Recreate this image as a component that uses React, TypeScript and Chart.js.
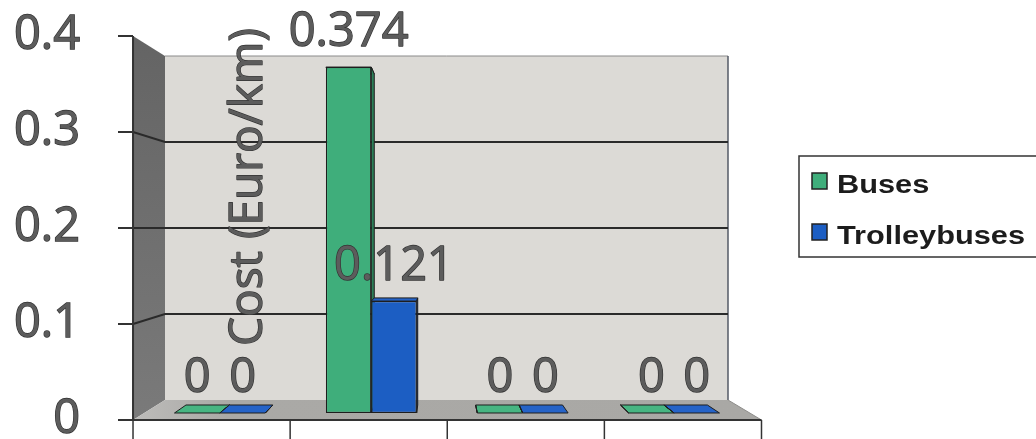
import React, { useEffect, useRef } from "react";
import { Chart, registerables } from "chart.js";

Chart.register(...registerables);

// ---------- data ----------
const categories = ["", "", "", ""];
const busValues = [0, 0.374, 0, 0];
const trolleybusValues = [0, 0.121, 0, 0];
const seriesLabels = ["Buses", "Trolleybuses"];
const yMin = 0;
const yMax = 0.4;
const yStep = 0.1;
const yAxisTitle = "Cost (Euro/km)";

// ---------- style ----------
const WIDTH = 1036;
const HEIGHT = 439;
const COLORS = ["#3fae7b", "#1c5ec3"];
const TOP_COLORS = ["#47b582", "#2563c8"];
const SIDE_COLORS = ["#2b7f58", "#14449a"];
const EDGE = "#1e1e1e";
const TEXT = "#5c5c5c";
const TEXT_EDGE = "#333333";
const FONT = "'Open Sans', 'DejaVu Sans', sans-serif";
const LEGEND_FONT = "bold 25px 'Liberation Sans', Arial, sans-serif";

// 3D view: vanishing point and depth scales (back wall = 1)
const VP = { x: 440, y: 228 };
const S_BACK = 1;
const S_BAR_BACK = 1.029;
const S_BAR = 1.0756;
const S_FRONT = 1.1163;
const PLOT_TOP = 36;
const PLOT_BOTTOM = 420;
const BACK_LEFT = 165;
const BACK_RIGHT = 728;
const AREA_LEFT = VP.x + (BACK_LEFT - VP.x) * S_BAR;
const AREA_RIGHT = VP.x + (BACK_RIGHT - VP.x) * S_BAR;
const LABEL_RIGHT = 80;

// hidden bar-plane value axis range (bars sit slightly behind the front axis plane)
const ratio = S_BAR / S_FRONT;
const frontValueAt = (p: number) =>
  yMin + ((PLOT_BOTTOM - p) / (PLOT_BOTTOM - PLOT_TOP)) * (yMax - yMin);
const barValueAt = (p: number) => frontValueAt(VP.y + (p - VP.y) / ratio);
const ybMin = barValueAt(PLOT_BOTTOM);
const ybMax = barValueAt(PLOT_TOP);

function poly(ctx: CanvasRenderingContext2D, pts: number[][], fill: any, stroke?: string, lw = 1) {
  ctx.beginPath();
  pts.forEach(([px, py], i) => (i === 0 ? ctx.moveTo(px, py) : ctx.lineTo(px, py)));
  ctx.closePath();
  ctx.fillStyle = fill;
  ctx.fill();
  if (stroke) {
    ctx.strokeStyle = stroke;
    ctx.lineWidth = lw;
    ctx.stroke();
  }
}

function outlinedText(ctx: CanvasRenderingContext2D, text: string, x: number, y: number) {
  ctx.lineWidth = 1.3;
  ctx.strokeStyle = TEXT_EDGE;
  ctx.lineJoin = "round";
  ctx.strokeText(text, x, y);
  ctx.fillStyle = TEXT;
  ctx.fillText(text, x, y);
}

const threeD = {
  id: "threeD",
  beforeDraw(chart: any) {
    const { ctx, chartArea: a, scales } = chart;
    const y = scales.y;
    const x = scales.x;
    const fx = (px: number) => VP.x + ((px - VP.x) * S_FRONT) / S_BAR;
    const bx = (px: number) => VP.x + ((px - VP.x) * S_BACK) / S_BAR;
    const by = (py: number) => VP.y + ((py - VP.y) * S_BACK) / S_FRONT;
    const fL = fx(a.left);
    const fR = fx(a.right);
    const bL = bx(a.left);
    const bR = bx(a.right);
    const fTop = y.getPixelForValue(yMax);
    const fBot = y.getPixelForValue(yMin);
    const bTop = by(fTop);
    const bBot = by(fBot);
    ctx.save();
    // back wall
    ctx.fillStyle = "#dcdad6";
    ctx.fillRect(bL, bTop, bR - bL, bBot - bTop);
    ctx.strokeStyle = "#8a8a8a";
    ctx.lineWidth = 1;
    ctx.beginPath();
    ctx.moveTo(bL, bTop);
    ctx.lineTo(bR, bTop);
    ctx.stroke();
    ctx.strokeStyle = "#555a66";
    ctx.lineWidth = 1.5;
    ctx.beginPath();
    ctx.moveTo(bR, bTop);
    ctx.lineTo(bR, bBot);
    ctx.stroke();
    // side wall
    const g = ctx.createLinearGradient(0, fTop, 0, fBot);
    g.addColorStop(0, "#646464");
    g.addColorStop(1, "#7a7a7a");
    poly(ctx, [[fL, fTop], [bL, bTop], [bL, bBot], [fL, fBot]], g);
    // floor
    const fg = ctx.createLinearGradient(fL, 0, fR, 0);
    fg.addColorStop(0, "#bdbcba");
    fg.addColorStop(0.15, "#aaa9a6");
    fg.addColorStop(1, "#a9a8a5");
    poly(ctx, [[fL, fBot], [bL, bBot], [bR, bBot], [fR, fBot]], fg);
    ctx.strokeStyle = "#8d8c8a";
    ctx.lineWidth = 1;
    ctx.beginPath();
    ctx.moveTo(bR, bBot);
    ctx.lineTo(fR, fBot);
    ctx.stroke();
    // gridlines (side wall + back wall)
    ctx.strokeStyle = "#2a2a2a";
    ctx.lineWidth = 2;
    y.ticks.forEach((t: any) => {
      if (t.value <= yMin || t.value >= yMax) return;
      const fy = y.getPixelForValue(t.value);
      const gy = by(fy);
      ctx.beginPath();
      ctx.moveTo(fL, fy);
      ctx.lineTo(bL, gy);
      ctx.lineTo(bR, gy);
      ctx.stroke();
    });
    // front value axis line + ticks
    ctx.strokeStyle = "#333";
    ctx.lineWidth = 2;
    ctx.beginPath();
    ctx.moveTo(fL, fTop);
    ctx.lineTo(fL, fBot);
    ctx.stroke();
    y.ticks.forEach((t: any) => {
      const fy = y.getPixelForValue(t.value);
      ctx.beginPath();
      ctx.moveTo(fL - 15, fy);
      ctx.lineTo(fL, fy);
      ctx.stroke();
    });
    // front category axis line + ticks
    ctx.beginPath();
    ctx.moveTo(fL, fBot);
    ctx.lineTo(fR, fBot);
    ctx.stroke();
    ctx.lineWidth = 1.5;
    for (let i = 0; i <= categories.length; i++) {
      const px = fx(x.getPixelForValue(i - 0.5));
      ctx.beginPath();
      ctx.moveTo(px, fBot);
      ctx.lineTo(px, fBot + 19);
      ctx.stroke();
    }
    ctx.restore();
  },
  beforeDatasetsDraw(chart: any) {
    const { ctx } = chart;
    const k = S_BAR_BACK / S_BAR;
    const px = (v: number) => VP.x + (v - VP.x) * k;
    const py = (v: number) => VP.y + (v - VP.y) * k;
    ctx.save();
    chart.data.datasets.forEach((ds: any, di: number) => {
      const meta = chart.getDatasetMeta(di);
      meta.data.forEach((el: any) => {
        const { x, y, base, width } = el.getProps(["x", "y", "base", "width"], true);
        const l = x - width / 2;
        const r = x + width / 2;
        const t = Math.min(y, base);
        const b = Math.max(y, base);
        poly(ctx, [[l, t], [r, t], [px(r), py(t)], [px(l), py(t)]], TOP_COLORS[di], EDGE, 1);
        if (r < VP.x) {
          poly(ctx, [[r, t], [r, b], [px(r), py(b)], [px(r), py(t)]], SIDE_COLORS[di], EDGE, 1);
        } else if (l > VP.x) {
          poly(ctx, [[l, t], [l, b], [px(l), py(b)], [px(l), py(t)]], SIDE_COLORS[di], EDGE, 1);
        }
      });
    });
    ctx.restore();
  },
  afterDatasetsDraw(chart: any) {
    const { ctx } = chart;
    ctx.save();
    ctx.font = `47px ${FONT}`;
    ctx.textAlign = "center";
    ctx.textBaseline = "alphabetic";
    chart.data.datasets.forEach((ds: any, di: number) => {
      const meta = chart.getDatasetMeta(di);
      meta.data.forEach((el: any, i: number) => {
        outlinedText(ctx, String(ds.data[i]), el.x, el.y - 21);
      });
    });
    // axis title (rotated, sits over the plot)
    ctx.font = `46px ${FONT}`;
    ctx.translate(262, 187);
    ctx.rotate(-Math.PI / 2);
    outlinedText(ctx, yAxisTitle, 0, 0);
    ctx.restore();
  },
  afterDraw(chart: any) {
    const { ctx } = chart;
    const datasets = chart.data.datasets;
    ctx.save();
    const lx = 799;
    const ly = 156;
    ctx.fillStyle = "#ffffff";
    ctx.fillRect(lx, ly, 260, 101);
    ctx.strokeStyle = "#333";
    ctx.lineWidth = 1.5;
    ctx.strokeRect(lx, ly, 260, 101);
    datasets.forEach((ds: any, i: number) => {
      const rowY = ly + 17 + i * 51;
      ctx.fillStyle = ds.backgroundColor;
      ctx.fillRect(lx + 13, rowY, 15, 16);
      ctx.strokeStyle = "#222";
      ctx.lineWidth = 1.5;
      ctx.strokeRect(lx + 13, rowY, 15, 16);
      ctx.save();
      ctx.translate(lx + 38, rowY + 20);
      ctx.scale(1.23, 1);
      ctx.font = LEGEND_FONT;
      ctx.fillStyle = "#1c1c1c";
      ctx.textAlign = "left";
      ctx.textBaseline = "alphabetic";
      ctx.fillText(ds.label, 0, 0);
      ctx.restore();
    });
    ctx.restore();
  },
};

export default function App() {
  const ref = useRef<HTMLCanvasElement>(null);
  useEffect(() => {
    const chart = new Chart(ref.current as HTMLCanvasElement, {
      type: "bar",
      data: {
        labels: categories,
        datasets: [
          {
            label: seriesLabels[0],
            data: busValues,
            backgroundColor: COLORS[0],
            borderColor: EDGE,
            borderWidth: 1.2,
            borderSkipped: false,
            yAxisID: "yb",
          },
          {
            label: seriesLabels[1],
            data: trolleybusValues,
            backgroundColor: COLORS[1],
            borderColor: EDGE,
            borderWidth: 1.2,
            borderSkipped: false,
            yAxisID: "yb",
          },
        ],
      },
      options: {
        responsive: false,
        devicePixelRatio: 1,
        animation: false,
        layout: {
          padding: { left: 0, top: PLOT_TOP, right: WIDTH - AREA_RIGHT, bottom: HEIGHT - PLOT_BOTTOM },
        },
        datasets: { bar: { categoryPercentage: 0.6, barPercentage: 1.0 } },
        plugins: { legend: { display: false }, tooltip: { enabled: false } },
        scales: {
          x: { type: "category", display: false, offset: true },
          y: {
            type: "linear",
            position: "left",
            min: yMin,
            max: yMax,
            grid: { display: false, drawTicks: false },
            border: { display: false },
            ticks: {
              stepSize: yStep,
              padding: AREA_LEFT - LABEL_RIGHT,
              color: TEXT,
              textStrokeColor: TEXT_EDGE,
              textStrokeWidth: 1.3,
              font: { family: FONT, size: 47, lineHeight: 0.8 },
            },
            afterFit(scale: any) {
              scale.width = AREA_LEFT;
              scale.paddingTop = 0;
              scale.paddingBottom = 0;
            },
          },
          yb: { type: "linear", display: false, min: ybMin, max: ybMax },
        },
      },
      plugins: [threeD],
    } as any);
    return () => chart.destroy();
  }, []);
  return (
    <div style={{ position: "absolute", left: 0, top: 0, width: WIDTH, height: HEIGHT, background: "#fff" }}>
      <canvas ref={ref} width={WIDTH} height={HEIGHT} style={{ display: "block" }} />
    </div>
  );
}
